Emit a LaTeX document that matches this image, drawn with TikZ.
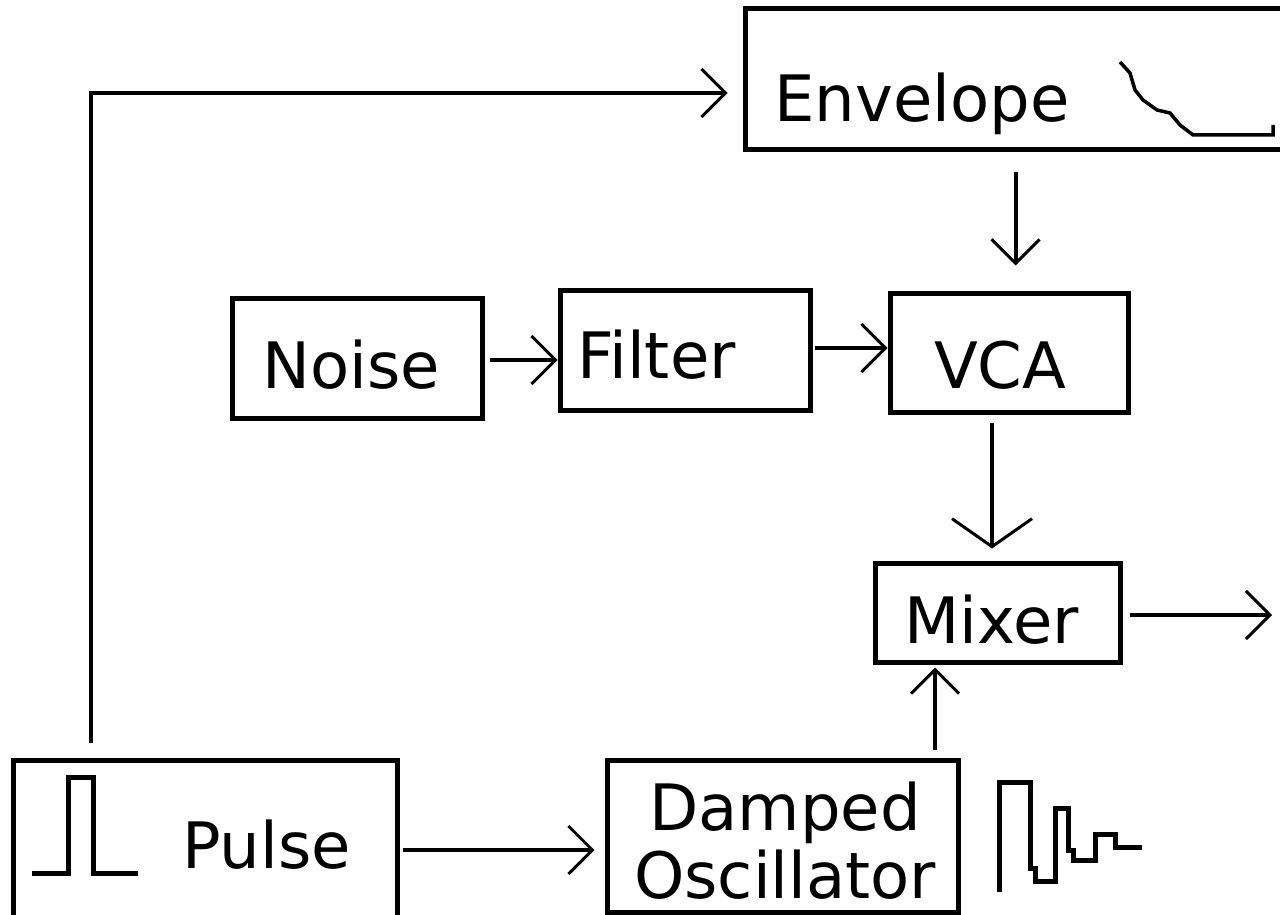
\documentclass[tikz,border=0pt]{standalone}
\usepackage{fontspec}
\setmainfont{DejaVu Sans}
\usetikzlibrary{arrows.meta,calc}

\tikzset{
  box/.style={draw, rectangle, line width=5pt, inner sep=0pt},
  lbl/.style={font=\fontsize{64}{70}\selectfont, inner sep=0pt, anchor=base west},
  sig/.style={line width=4pt, -{Straight Barb[length=24pt, width=48pt, line width=3pt]}},
  bigsig/.style={line width=4pt, -{Straight Barb[length=28pt, width=80pt, line width=3pt]}},
  wave/.style={line width=5pt, line join=miter}
}

\begin{document}
\begin{tikzpicture}[x=1pt, y=-1pt]
    \useasboundingbox (0,0) rectangle (1280,915);
    \clip (0,0) rectangle (1280,915);

    % Blocs
    \node[box, minimum width=545pt, minimum height=141pt] (env) at (1017.5,79.5) {};
    \node[box, minimum width=250pt, minimum height=120pt] (noise) at (357,358) {};
    \node[box, minimum width=250pt, minimum height=120pt] (filter) at (685,350) {};
    \node[box, minimum width=238pt, minimum height=119pt] (vca) at (1009,352.5) {};
    \node[box, minimum width=245pt, minimum height=99pt] (mixer) at (997.5,612.5) {};
    \node[box, minimum width=384pt, minimum height=170pt] (pulse) at (205,845) {};
    \node[box, minimum width=351pt, minimum height=152pt] (osc) at (782.5,836) {};

    % Textes
    \node[lbl] (envtxt) at (774,122) {Envelope};
    \node[lbl] (noisetxt) at (262,388) {Noise};
    \node[lbl] (filtertxt) at (577,378) {Filter};
    \node[lbl] (vcatxt) at (934,388) {VCA};
    \node[lbl] (mixertxt) at (904,643) {Mixer};
    \node[lbl] (pulsetxt) at (182,868) {Pulse};
    \node[lbl] (osctxt1) at (649,830) {Damped};
    \node[lbl] (osctxt2) at (634,898) {Oscillator};

    % Formes d'onde
    \draw[line width=3.5pt] (1120,62) -- (1130,73) -- (1135,90) -- (1143,100)
        -- (1157,110) -- (1170,113) -- (1180,125) -- (1193,135) -- (1273,135) -- (1273,125);
    \draw[wave] (32,873) -- (68,873) -- (68,777) -- (93,777) -- (93,873) -- (138,873);
    \draw[wave] (999,892) -- (999,782) -- (1030,782) -- (1030,868) -- (1035,868)
        -- (1035,881) -- (1055,881) -- (1055,808) -- (1068,808) -- (1068,850)
        -- (1073,850) -- (1073,860) -- (1095,860) -- (1095,834) -- (1115,834)
        -- (1115,847) -- (1142,847);

    % Liaisons
    \coordinate (out) at (1272,615);
    \draw[sig] ($(pulse.north west)+(80,-15)$) |- ($(env.west)+(-15,13.5)$);
    \draw[sig] ([xshift=-2pt,yshift=-20pt]env.south) -- ([xshift=6.5pt,yshift=25pt]vca.north);
    \draw[sig] ([xshift=5pt,yshift=-2pt]noise.east) -- ([yshift=-10pt]filter.west);
    \draw[sig] ([xshift=2pt,yshift=2pt]filter.east) -- ([yshift=4.5pt]vca.west);
    \draw[bigsig] ([xshift=-17pt,yshift=-8pt]vca.south) -- ([xshift=-5.5pt,yshift=12pt]mixer.north);
    \draw[sig] ([xshift=7pt,yshift=-2.5pt]mixer.east) -- (out);
    \draw[sig] ([xshift=152.5pt,yshift=8pt]osc.north) -- ([xshift=-62.5pt,yshift=-3pt]mixer.south);
    \draw[sig] ([xshift=3pt,yshift=-5pt]pulse.east) -- ([xshift=-10pt,yshift=-14pt]osc.west);
\end{tikzpicture}
\end{document}
